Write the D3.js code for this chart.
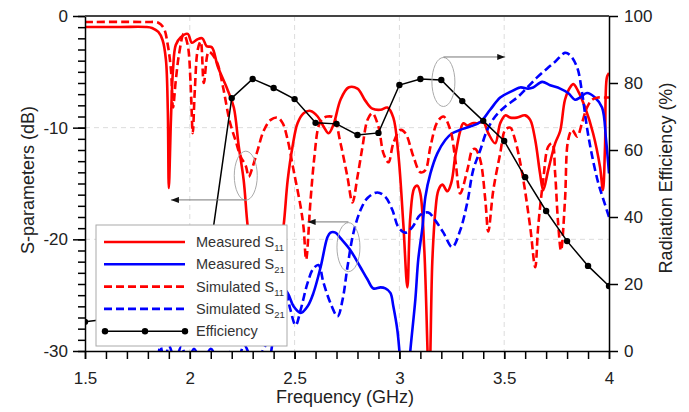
<!DOCTYPE html>
<html><head><meta charset="utf-8">
<script src="https://cdn.jsdelivr.net/npm/d3@7"></script>
<style>
body{margin:0;background:#fff}
svg{display:block;font-family:Arial,"Liberation Sans",sans-serif}
</style>
</head><body>
<svg id="c" width="689" height="412"></svg>
<script>
// ---------- data ----------
const xTicks = [1.5, 2, 2.5, 3, 3.5, 4];
const yTicksLeft = [0, -10, -20, -30];
const yTicksRight = [0, 20, 40, 60, 80, 100];
const gridX = [2, 2.5, 3, 3.5];
const gridY = [-10, -20];

// [frequency GHz, dB]
const measuredS11 = [[1.50,-0.98],[1.67,-0.98],[1.79,-0.98],[1.82,-1.07],[1.85,-1.43],[1.87,-2.15],[1.886,-3.9],[1.895,-8.4],[1.90,-15.4],[1.91,-9.3],[1.92,-4.8],[1.933,-2.6],[1.957,-1.9],[1.99,-1.6],[2.01,-2.4],[2.035,-2.1],[2.06,-2.0],[2.08,-2.7],[2.105,-2.8],[2.133,-4.5],[2.18,-6.6],[2.21,-8.2],[2.233,-11.6],[2.257,-14.7],[2.276,-18.8],[2.30,-22.0],[2.34,-24.0],[2.40,-23.5],[2.43,-21.0],[2.448,-18.7],[2.467,-14.7],[2.49,-11.7],[2.514,-9.6],[2.543,-8.7],[2.576,-8.5],[2.61,-9.0],[2.638,-9.9],[2.662,-10.5],[2.686,-9.7],[2.719,-7.5],[2.757,-6.4],[2.80,-6.5],[2.838,-7.6],[2.871,-8.3],[2.91,-8.4],[2.943,-8.2],[2.971,-9.1],[2.995,-12.4],[3.019,-18.7],[3.038,-24.3],[3.052,-18.0],[3.071,-15.4],[3.086,-15.2],[3.10,-15.9],[3.119,-21.0],[3.142,-33.0],[3.157,-22.0],[3.171,-17.6],[3.186,-15.6],[3.205,-15.1],[3.229,-15.7],[3.248,-14.9],[3.267,-12.5],[3.29,-10.3],[3.305,-9.6],[3.324,-9.8],[3.348,-9.6],[3.371,-9.6],[3.40,-9.5],[3.424,-10.5],[3.457,-11.4],[3.481,-9.6],[3.505,-8.9],[3.529,-9.1],[3.56,-9.1],[3.60,-8.9],[3.624,-9.3],[3.648,-11.1],[3.671,-14.1],[3.686,-15.6],[3.71,-13.8],[3.743,-11.4],[3.767,-10.3],[3.79,-7.5],[3.814,-6.4],[3.83,-6.1],[3.852,-6.7],[3.886,-8.2],[3.924,-10.5],[3.957,-13.5],[3.971,-15.6],[3.981,-11.7],[3.99,-5.5],[4.00,-5.1]];

const measuredS21 = [[1.50,-40],[2.30,-38],[2.38,-31],[2.42,-26],[2.443,-24.35],[2.467,-24.8],[2.495,-26.0],[2.529,-26.6],[2.562,-26.0],[2.59,-24.8],[2.624,-22.5],[2.657,-19.8],[2.671,-19.4],[2.695,-19.4],[2.719,-19.9],[2.767,-21.0],[2.814,-22.5],[2.848,-23.6],[2.876,-24.4],[2.91,-24.3],[2.933,-24.4],[2.957,-24.8],[2.971,-26.0],[2.99,-28.1],[3.0,-30.0],[3.012,-33],[3.04,-33],[3.052,-30.0],[3.076,-25.4],[3.09,-21.8],[3.11,-18.9],[3.124,-16.2],[3.148,-14.1],[3.181,-12.3],[3.219,-11.1],[3.252,-10.5],[3.29,-10.2],[3.338,-9.9],[3.386,-9.5],[3.433,-8.4],[3.481,-7.3],[3.529,-6.8],[3.576,-6.4],[3.614,-6.5],[3.638,-6.4],[3.681,-5.9],[3.719,-6.2],[3.767,-6.5],[3.805,-6.9],[3.838,-7.5],[3.862,-7.3],[3.895,-6.9],[3.933,-7.3],[3.967,-8.2],[3.986,-11.1],[4.0,-14.1]];

const simulatedS11 = [[1.50,-0.54],[1.79,-0.54],[1.85,-0.6],[1.876,-1.1],[1.895,-2.6],[1.91,-4.8],[1.92,-8.2],[1.933,-5.8],[1.948,-3.5],[1.971,-1.6],[1.99,-2.6],[2.005,-6.6],[2.014,-10.5],[2.024,-6.6],[2.038,-3.0],[2.052,-2.3],[2.067,-6.0],[2.09,-3.2],[2.11,-3.5],[2.133,-4.3],[2.16,-6.5],[2.19,-9.4],[2.219,-11.2],[2.243,-12.6],[2.267,-13.4],[2.281,-14.4],[2.30,-13.5],[2.324,-12.0],[2.352,-10.3],[2.386,-9.3],[2.419,-9.1],[2.443,-9.6],[2.467,-11.1],[2.495,-13.8],[2.529,-17.1],[2.543,-19.0],[2.555,-21.8],[2.576,-16.5],[2.595,-12.5],[2.614,-9.9],[2.633,-9.2],[2.657,-9.0],[2.686,-9.1],[2.719,-11.4],[2.752,-14.4],[2.776,-16.7],[2.80,-14.4],[2.824,-11.7],[2.848,-9.3],[2.871,-8.7],[2.90,-9.9],[2.924,-12.3],[2.948,-13.1],[2.971,-11.4],[3.005,-10.2],[3.029,-10.5],[3.067,-12.6],[3.10,-14.0],[3.124,-13.8],[3.148,-11.7],[3.181,-9.5],[3.21,-9.0],[3.243,-10.2],[3.267,-12.9],[3.29,-15.9],[3.324,-13.8],[3.348,-12.0],[3.362,-11.9],[3.386,-12.9],[3.41,-16.5],[3.424,-19.3],[3.448,-15.6],[3.481,-12.3],[3.505,-10.2],[3.529,-10.0],[3.552,-11.1],[3.586,-14.1],[3.624,-18.9],[3.648,-22.5],[3.662,-18.9],[3.686,-14.7],[3.71,-11.7],[3.729,-11.4],[3.743,-14.1],[3.757,-18.5],[3.771,-21.0],[3.79,-16.5],[3.805,-11.1],[3.824,-10.2],[3.848,-10.8],[3.871,-9.6],[3.895,-8.2],[3.919,-7.5],[3.948,-7.3],[3.98,-7.3],[4.00,-7.3]];

const simulatedS21 = [[1.50,-36],[1.80,-34],[1.84,-31.5],[1.86,-29.6],[1.88,-31.2],[1.90,-29.5],[1.93,-30.8],[1.96,-29.6],[1.99,-31.0],[2.02,-29.8],[2.06,-31.2],[2.10,-29.8],[2.14,-31.0],[2.18,-30.0],[2.22,-31.2],[2.26,-29.5],[2.30,-30.8],[2.34,-30.2],[2.38,-28.5],[2.41,-25.5],[2.433,-23.6],[2.457,-24.5],[2.48,-26.3],[2.505,-27.7],[2.529,-26.3],[2.562,-23.9],[2.59,-22.6],[2.614,-22.3],[2.638,-23.9],[2.671,-25.7],[2.705,-26.9],[2.729,-25.4],[2.752,-22.5],[2.781,-19.4],[2.814,-17.4],[2.848,-16.3],[2.895,-15.8],[2.933,-16.2],[2.967,-17.4],[2.995,-18.9],[3.029,-19.4],[3.062,-18.9],[3.10,-17.8],[3.138,-17.6],[3.171,-18.3],[3.21,-19.4],[3.252,-20.7],[3.29,-19.2],[3.324,-16.7],[3.352,-13.8],[3.386,-12.0],[3.419,-10.2],[3.457,-9.0],[3.505,-8.1],[3.562,-7.3],[3.61,-6.4],[3.657,-5.5],[3.705,-4.7],[3.743,-4.1],[3.79,-3.3],[3.814,-3.5],[3.848,-4.6],[3.871,-6.8],[3.895,-10.0],[3.919,-12.5],[3.948,-14.9],[3.971,-16.3],[4.0,-18.0]];

const effFreq = [1.5,1.6,1.7,1.8,1.9,2.0,2.1,2.2,2.3,2.4,2.5,2.6,2.7,2.8,2.9,3.0,3.1,3.2,3.3,3.4,3.5,3.6,3.7,3.8,3.9,4.0];
const effValues = [8.7,9.5,10.3,11.0,12.0,14.0,31.3,75.5,81.2,78.5,75.2,68.1,67.8,64.5,65.1,79.4,81.2,80.9,74.6,68.7,62.7,51.9,41.8,32.8,25.4,19.4];

// annotation ellipses: [freq, dB] centres; arrows: [from freq, to freq, dB]
const ellipseCenters = [[2.267,-14.3],[2.757,-20.7],[3.21,-5.91]];
const arrowLines = [[2.267,1.91,-16.47],[2.757,2.562,-18.44],[3.21,3.505,-3.67]];

const legendLabels = [["Measured S","11"],["Measured S","21"],["Simulated S","11"],["Simulated S","21"],["Efficiency",""]];

// ---------- chart ----------
const L=85,R=609,T=16,B=351;
const x=d3.scaleLinear().domain([1.5,4]).range([L,R]);
const y=d3.scaleLinear().domain([-30,0]).range([B,T]);
const y2=d3.scaleLinear().domain([0,100]).range([B,T]);
const svg=d3.select('#c');
const defs=svg.append('defs');
defs.append('clipPath').attr('id','clip').append('rect').attr('x',L).attr('y',T).attr('width',R-L).attr('height',B-T);
defs.append('marker').attr('id','arr').attr('markerUnits','userSpaceOnUse')
  .attr('markerWidth',8).attr('markerHeight',6).attr('refX',8).attr('refY',3).attr('orient','auto')
  .append('path').attr('d','M0,0L8,3L0,6Z').attr('fill','#111');

// grid
const grid=svg.append('g').attr('stroke','#dcdcdc').attr('stroke-width',1).attr('stroke-dasharray','5,4');
grid.selectAll('.gx').data(gridX).join('line').attr('x1',d=>x(d)).attr('x2',d=>x(d)).attr('y1',T).attr('y2',B);
grid.selectAll('.gy').data(gridY).join('line').attr('x1',L).attr('x2',R).attr('y1',d=>y(d)).attr('y2',d=>y(d));

// curves
const line=d3.line().x(d=>x(d[0])).y(d=>y(d[1])).curve(d3.curveCatmullRom.alpha(0.5));
const plot=svg.append('g').attr('clip-path','url(#clip)');
const series=[
  {d:measuredS11,c:'#ff0000',dash:null},
  {d:measuredS21,c:'#0000ff',dash:null},
  {d:simulatedS11,c:'#ff0000',dash:'8,4'},
  {d:simulatedS21,c:'#0000ff',dash:'8,4'}
];
series.forEach(s=>{
  plot.append('path').datum(s.d).attr('d',line).attr('fill','none')
    .attr('stroke',s.c).attr('stroke-width',2.6).attr('stroke-linejoin','round')
    .attr('stroke-dasharray',s.dash);
});
// efficiency
const eff=effFreq.map((f,i)=>[f,effValues[i]]);
const effLine=d3.line().x(d=>x(d[0])).y(d=>y2(d[1]));
plot.append('path').datum(eff).attr('d',effLine).attr('fill','none').attr('stroke','#000').attr('stroke-width',1.5);
plot.selectAll('.dot').data(eff).join('circle').attr('cx',d=>x(d[0])).attr('cy',d=>y2(d[1])).attr('r',3.2).attr('fill','#000');

// annotations
const ann=svg.append('g');
ann.selectAll('ellipse').data(ellipseCenters).join('ellipse')
  .attr('cx',d=>x(d[0])).attr('cy',d=>y(d[1])).attr('rx',11.5).attr('ry',24.5)
  .attr('fill','none').attr('stroke','#aaa').attr('stroke-width',1);
ann.selectAll('line').data(arrowLines).join('line')
  .attr('x1',d=>x(d[0])).attr('x2',d=>x(d[1])).attr('y1',d=>y(d[2])).attr('y2',d=>y(d[2]))
  .attr('stroke','#777').attr('stroke-width',1).attr('marker-end','url(#arr)');

// axes
const fmt=d=>String(d);
const ax=svg.append('g').attr('transform',`translate(0,${B})`);
ax.call(d3.axisBottom(x).tickValues(d3.range(15,41).map(d=>d/10)).tickSize(8).tickSizeOuter(0).tickFormat(''));
ax.append('g').call(d3.axisBottom(x).tickValues(xTicks).tickSize(8).tickPadding(13).tickSizeOuter(0).tickFormat(fmt))
  .call(g=>g.select('.domain').remove());
const ay=svg.append('g').attr('transform',`translate(${L},0)`);
ay.call(d3.axisLeft(y).tickValues(d3.range(-30,1)).tickSize(7).tickSizeOuter(0).tickFormat(''));
ay.append('g').call(d3.axisLeft(y).tickValues(yTicksLeft).tickSize(12).tickPadding(5).tickSizeOuter(0).tickFormat(fmt))
  .call(g=>g.select('.domain').remove());
const ar=svg.append('g').attr('transform',`translate(${R},0)`);
ar.call(d3.axisRight(y2).tickValues(yTicksRight).tickSize(9).tickPadding(6).tickSizeOuter(0).tickFormat(fmt));
svg.selectAll('.domain, .tick line').attr('stroke','#000').attr('stroke-width',1.5);
svg.selectAll('.tick text').attr('font-size',17).attr('fill','#222').attr('font-family','Arial, "Liberation Sans", sans-serif');
// top border
svg.append('line').attr('x1',L).attr('x2',R).attr('y1',T).attr('y2',T).attr('stroke','#444').attr('stroke-width',2);

// titles
svg.append('text').attr('x',345).attr('y',403).attr('text-anchor','middle').attr('font-size',18).attr('fill','#222').text('Frequency (GHz)');
svg.append('text').attr('transform','translate(28,180) rotate(-90)').attr('text-anchor','middle').attr('dy','0.35em').attr('font-size',18).attr('fill','#222').text('S-parameters (dB)');
svg.append('text').attr('transform','translate(666,178) rotate(-90)').attr('text-anchor','middle').attr('dy','0.35em').attr('font-size',18).attr('fill','#222').text('Radiation Efficiency (%)');

// legend
const lg=svg.append('g').attr('transform','translate(96,225)');
lg.append('rect').attr('width',191).attr('height',121).attr('fill','#fff').attr('stroke','#aaa').attr('stroke-width',1);
const legStyles=[{c:'#ff0000',dash:null},{c:'#0000ff',dash:null},{c:'#ff0000',dash:'8,4'},{c:'#0000ff',dash:'8,4'},{c:'#000',dash:null,eff:true}];
legendLabels.forEach((lab,i)=>{
  const yy=17+i*22.3, st=legStyles[i];
  lg.append('line').attr('x1',8).attr('x2',89).attr('y1',yy).attr('y2',yy)
    .attr('stroke',st.c).attr('stroke-width',st.eff?1.5:2.6).attr('stroke-dasharray',st.dash);
  if(st.eff){[9,49,89].forEach(cx=>lg.append('circle').attr('cx',cx).attr('cy',yy).attr('r',3.2).attr('fill','#000'));}
  const t=lg.append('text').attr('x',100).attr('y',yy).attr('dy','0.35em').attr('font-size',14.5).attr('fill','#333');
  t.append('tspan').text(lab[0]);
  if(lab[1]) t.append('tspan').attr('dy',4).attr('font-size',9.5).text(lab[1]);
});
</script>
</body></html>
